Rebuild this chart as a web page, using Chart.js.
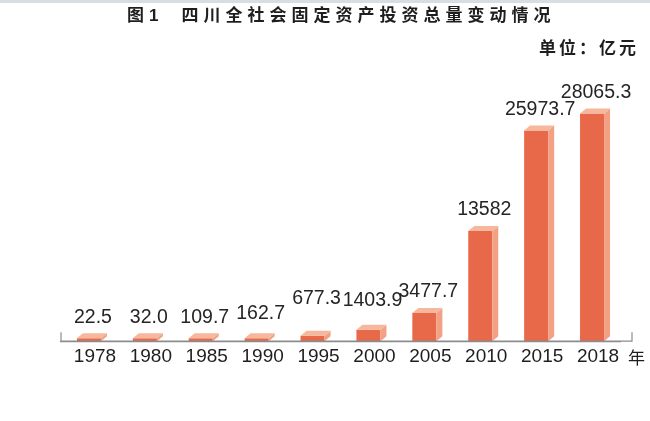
<!DOCTYPE html>
<html>
<head>
<meta charset="utf-8">
<script src="https://cdn.jsdelivr.net/npm/chart.js"></script>
<style>
  html, body { margin: 0; padding: 0; background: #fff; }
  .wrap { position: relative; width: 650px; height: 421px; overflow: hidden; }
  .topline { position: absolute; left: 0; top: 0; width: 650px; height: 3px; background: #d8dde3; }
  .title {
    position: absolute; top: 1px; left: 127px;
    font: bold 17px "Noto Sans CJK SC", sans-serif; color: #1e1e1e; letter-spacing: 5px; white-space: nowrap;
  }
  .title .num { font-family: "Liberation Sans", Arial, sans-serif; margin-right: 18px; }
  .unit {
    position: absolute; top: 34px; right: 11px;
    font: bold 17px "Noto Sans CJK SC", sans-serif; color: #1e1e1e; letter-spacing: 3px; white-space: nowrap;
  }
  canvas { position: absolute; left: 0; top: 0; }
</style>
</head>
<body>
<div class="wrap">
  <div class="topline"></div>
  <canvas id="chart" width="650" height="421"></canvas>
  <div class="title">图<span class="num">1</span>四川全社会固定资产投资总量变动情况</div>
  <div class="unit">单位：亿元</div>
</div>
<script>
const years = ["1978", "1980", "1985", "1990", "1995", "2000", "2005", "2010", "2015", "2018"];
const investment = [22.5, 32.0, 109.7, 162.7, 677.3, 1403.9, 3477.7, 13582, 25973.7, 28065.3];
const valueText = ["22.5", "32.0", "109.7", "162.7", "677.3", "1403.9", "3477.7", "13582", "25973.7", "28065.3"];

// extra lift for labels that would collide with their neighbours
const labelLift = [0, 0, 0, 4, 16, 8, 0, 0, 0, 0];

const FRONT = "#e8694a";
const SIDE = "#f3a184";
const TOP = "#f6b79d";
const AXIS = "#8c8c8c";
const DEPTH_X = 6;
const DEPTH_Y = 5;
const AXIS_EXTEND = 12;
const NUM_FONT = '19.5px "Liberation Sans", Arial, sans-serif';

// draws the top and right faces so the bars look like boxes
const boxFaces = {
  id: "boxFaces",
  afterDatasetsDraw(chart) {
    const { ctx } = chart;
    const meta = chart.getDatasetMeta(0);
    ctx.save();
    meta.data.forEach((bar) => {
      const left = bar.x - bar.width / 2;
      const right = bar.x + bar.width / 2;
      const top = bar.y;
      const bottom = bar.base;
      ctx.fillStyle = SIDE;
      ctx.beginPath();
      ctx.moveTo(right, top);
      ctx.lineTo(right + DEPTH_X, top - DEPTH_Y);
      ctx.lineTo(right + DEPTH_X, bottom - DEPTH_Y);
      ctx.lineTo(right, bottom);
      ctx.closePath();
      ctx.fill();
      ctx.fillStyle = TOP;
      ctx.beginPath();
      ctx.moveTo(left, top);
      ctx.lineTo(left + DEPTH_X, top - DEPTH_Y);
      ctx.lineTo(right + DEPTH_X, top - DEPTH_Y);
      ctx.lineTo(right, top);
      ctx.closePath();
      ctx.fill();
    });
    ctx.restore();
  },
};

const valueLabels = {
  id: "valueLabels",
  afterDatasetsDraw(chart) {
    const { ctx } = chart;
    const meta = chart.getDatasetMeta(0);
    ctx.save();
    ctx.font = NUM_FONT;
    ctx.fillStyle = "#252525";
    ctx.textAlign = "center";
    ctx.textBaseline = "middle";
    meta.data.forEach((bar, i) => {
      ctx.fillText(valueText[i], bar.x + 4, bar.y - 21 - labelLift[i]);
    });
    ctx.restore();
  },
};

const axisEnds = {
  id: "axisEnds",
  afterDraw(chart) {
    const { ctx, chartArea } = chart;
    const end = chartArea.right + AXIS_EXTEND;
    ctx.save();
    ctx.strokeStyle = AXIS;
    ctx.lineWidth = 1.2;
    ctx.beginPath();
    ctx.moveTo(chartArea.left, chartArea.bottom - 9);
    ctx.lineTo(chartArea.left, chartArea.bottom);
    ctx.lineTo(end, chartArea.bottom);
    ctx.lineTo(end, chartArea.bottom - 9);
    ctx.stroke();
    ctx.font = '17px "Noto Sans CJK SC", sans-serif';
    ctx.fillStyle = "#1e1e1e";
    ctx.textAlign = "left";
    ctx.textBaseline = "middle";
    ctx.fillText("年", end - 4, chartArea.bottom + 16);
    ctx.restore();
  },
};

new Chart(document.getElementById("chart"), {
  type: "bar",
  data: {
    labels: years,
    datasets: [{
      data: investment,
      backgroundColor: FRONT,
      borderWidth: 0,
      barPercentage: 0.43,
      categoryPercentage: 1.0,
      minBarLength: 3,
    }],
  },
  options: {
    responsive: false,
    animation: false,
    layout: { padding: { left: 61, right: 30, top: 60, bottom: 49 } },
    plugins: {
      legend: { display: false },
      tooltip: { enabled: false },
    },
    scales: {
      x: {
        grid: { display: false, drawTicks: false },
        border: { display: true, color: AXIS, width: 1.2 },
        ticks: {
          color: "#1e1e1e",
          font: { family: '"Liberation Sans", Arial, sans-serif', size: 19 },
          padding: 4,
          labelOffset: 6,
          maxRotation: 0,
        },
      },
      y: {
        display: false,
        min: 0,
        max: 34650,
      },
    },
  },
  plugins: [boxFaces, valueLabels, axisEnds],
});
</script>
</body>
</html>
